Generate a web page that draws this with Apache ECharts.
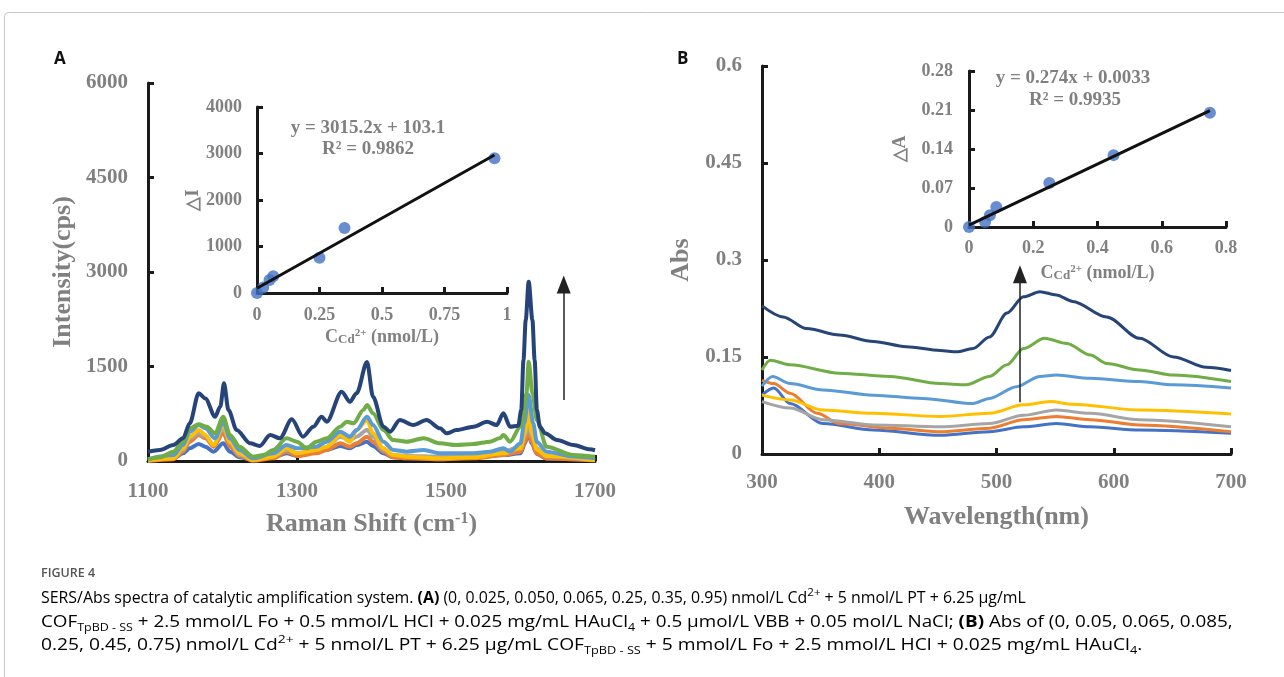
<!DOCTYPE html>
<html><head><meta charset="utf-8">
<script src="https://cdn.jsdelivr.net/npm/echarts@6/dist/echarts.min.js"></script>
<style>html,body{margin:0;padding:0;background:#fff}#c{width:1284px;height:677px}</style>
</head><body><div id="c"></div>
<script>
// ---------- Panel A: SERS spectra (Raman shift cm-1 vs intensity cps) ----------
const ramanNavyX = [1100,1116,1134,1147,1156,1168,1177,1190,1197,1202,1208,1219,1237,1250,1264,1277,1293,1308,1322,1333,1340,1360,1371,1380,1394,1402,1416,1425,1438,1456,1474,1492,1501,1514,1537,1555,1568,1577,1586,1597,1601,1604,1607,1611,1616,1619,1622,1626,1633,1649,1671,1693,1700];
const ramanNavyY = [148,175,254,360,598,1074,994,703,862,1233,809,492,280,238,413,360,661,386,545,703,624,1100,941,1074,1571,1021,545,465,651,571,651,518,439,492,545,624,571,757,545,560,809,1603,2237,2846,2237,1603,809,544,440,333,254,185,170];
const ramanGreenX = [1100,1116,1134,1147,1156,1168,1179,1190,1201,1210,1223,1241,1255,1268,1286,1300,1313,1326,1340,1358,1367,1376,1389,1394,1402,1416,1429,1447,1470,1492,1514,1537,1559,1572,1577,1586,1600,1603,1608,1611,1616,1622,1635,1671,1700];
const ramanGreenY = [27,58,148,307,518,582,545,439,703,413,228,69,95,175,360,307,201,307,360,545,624,598,809,889,757,492,333,307,360,280,254,270,307,360,413,307,545,650,1074,1576,1074,650,227,95,68];
const ramanLightX = [1100,1134,1147,1156,1168,1177,1190,1201,1210,1223,1241,1268,1286,1300,1326,1340,1358,1371,1380,1394,1402,1416,1429,1447,1470,1492,1514,1537,1559,1577,1586,1600,1605,1611,1617,1622,1635,1671,1700];
const ramanLightY = [30,95,254,465,571,518,360,624,360,175,42,122,254,201,228,307,465,386,492,703,571,307,175,148,175,122,122,122,148,201,148,280,600,1047,600,300,148,70,43];
const ramanLowX = [1100,1134,1147,1156,1168,1177,1188,1201,1210,1223,1241,1268,1286,1300,1326,1340,1358,1371,1380,1394,1402,1416,1429,1447,1492,1537,1577,1600,1606,1610,1615,1622,1635,1700];
const ramanYellowY = [10,42,201,386,492,413,254,571,307,122,16,69,201,122,175,228,413,307,492,651,439,201,95,69,42,58,122,201,450,840,450,180,80,15];
const ramanGrayY = [10,58,175,360,439,386,254,518,280,95,27,79,175,122,175,228,386,333,386,492,386,175,95,79,69,95,148,228,400,600,400,200,70,15];
const ramanOrangeY = [0,27,148,307,413,360,228,439,228,79,5,42,148,79,122,175,280,228,280,386,307,148,58,42,27,42,95,148,300,490,300,120,40,10];
const ramanBlueY = [10,42,122,201,270,228,148,280,148,58,16,58,122,79,148,175,238,201,254,307,238,122,58,42,27,58,95,122,280,450,280,110,40,10];

// Panel A inset: calibration (C Cd2+ nmol/L vs delta I)
const calAX = [0,0.025,0.05,0.065,0.25,0.35,0.95];
const calAY = [0,120,280,360,760,1400,2900];
const fitASlope = 3015.2, fitAIntercept = 103.1;

// ---------- Panel B: Abs spectra (wavelength nm vs Abs) ----------
const absNavyX = [300,318,338,366,395,423,452,466,480,494,509,523,537,551,565,594,622,651,679,700];
const absNavyY = [0.229,0.212,0.194,0.184,0.174,0.166,0.160,0.158,0.163,0.181,0.218,0.243,0.251,0.246,0.236,0.212,0.179,0.150,0.134,0.129];
const absGreenX = [300,307,324,366,409,452,474,494,509,523,541,560,580,594,622,651,700];
const absGreenY = [0.130,0.145,0.138,0.125,0.120,0.109,0.107,0.120,0.138,0.163,0.179,0.171,0.153,0.140,0.130,0.122,0.112];
const absLightX = [300,309,324,352,395,437,480,494,517,537,551,580,622,651,700];
const absLightY = [0.105,0.120,0.109,0.099,0.091,0.086,0.078,0.086,0.104,0.120,0.122,0.117,0.112,0.107,0.102];
const absYellowX = [300,324,352,395,452,494,523,546,565,622,700];
const absYellowY = [0.091,0.0835,0.068,0.063,0.058,0.063,0.076,0.081,0.077,0.068,0.062];
const absGrayX = [300,324,352,395,452,494,523,551,580,622,700];
const absGrayY = [0.081,0.071,0.053,0.045,0.042,0.047,0.060,0.068,0.063,0.053,0.042];
const absOrangeX = [300,310,324,347,366,409,452,494,523,551,580,622,700];
const absOrangeY = [0.114,0.109,0.094,0.063,0.047,0.040,0.0345,0.040,0.053,0.058,0.053,0.045,0.0345];
const absBlueX = [300,310,324,352,395,452,494,523,551,580,622,700];
const absBlueY = [0.091,0.102,0.078,0.047,0.037,0.029,0.0345,0.042,0.047,0.042,0.037,0.032];

// Panel B inset: calibration (C Cd2+ nmol/L vs delta A)
const calBX = [0,0.05,0.065,0.085,0.25,0.45,0.75];
const calBY = [0,0.009,0.021,0.036,0.079,0.129,0.205];
const fitBSlope = 0.274, fitBIntercept = 0.0033;

// ---------- styling ----------
const serif = '"Liberation Serif","Times New Roman",serif';
const gray = '#808080';
const ink = '#1a1a1a';
const colors = {blue:'#4472C4', orange:'#ED7D31', gray:'#A5A5A5', yellow:'#FFC000', light:'#5B9BD5', green:'#70AD47', navy:'#264478'};
const zip = (xs, ys) => xs.map((x, i) => [x, ys[i]]);
const fmt = v => String(Math.round(v * 1000) / 1000);

function axis(o) {
  return {
    type: 'value', gridIndex: o.grid, min: o.min, max: o.max, interval: o.interval,
    axisLine: {show: true, onZero: false, lineStyle: {color: ink, width: 3}},
    axisTick: {show: true, inside: true, length: 6, lineStyle: {color: ink, width: 3}},
    axisLabel: {color: gray, fontFamily: serif, fontWeight: 'bold', fontSize: o.fs, margin: o.margin, formatter: fmt, hideOverlap: false},
    splitLine: {show: false},
    name: o.name, nameLocation: 'middle', nameGap: o.nameGap, nameRotate: o.rotate || 0,
    nameTextStyle: {color: gray, fontFamily: serif, fontWeight: 'bold', fontSize: o.nfs, rich: o.rich}
  };
}

function spec(name, xs, ys, color, xi, w, extra) {
  return Object.assign({
    type: 'line', name, xAxisIndex: xi, yAxisIndex: xi, data: zip(xs, ys),
    showSymbol: false, symbol: 'none', smooth: 0.3, smoothMonotone: 'x',
    lineStyle: {color, width: w}, itemStyle: {color}, silent: true, z: 3
  }, extra || {});
}

const arrowStyle = {silent: true, symbol: ['none', 'triangle'], symbolSize: [14, 18], label: {show: false},
  lineStyle: {color: '#222', width: 1.5, type: 'solid'}, itemStyle: {color: '#222'}, emphasis: {disabled: true}};

const richAx = (fs) => ({
  a: {fontFamily: serif, fontWeight: 'bold', fontSize: fs, color: gray},
  sup: {fontFamily: serif, fontWeight: 'bold', fontSize: Math.round(fs * 0.62), color: gray, verticalAlign: 'top'},
  sub: {fontFamily: serif, fontWeight: 'bold', fontSize: Math.round(fs * 0.7), color: gray, verticalAlign: 'bottom'}
});

const capFont = '"Open Sans","Noto Sans",sans-serif';
const capFs = 15.9;
const capRich = {
  t: {fontFamily: capFont, fontSize: capFs, color: '#555', lineHeight: 23},
  b: {fontFamily: capFont, fontSize: capFs, color: '#555', fontWeight: 'bold', lineHeight: 23},
  sup: {fontFamily: capFont, fontSize: 11.5, color: '#555', verticalAlign: 'top'},
  sub: {fontFamily: capFont, fontSize: 10.5, color: '#555', verticalAlign: 'bottom'}
};
const capLine1 = '{t|SERS/Abs spectra of catalytic amplification system. }{b|(A)}{t| (0, 0.025, 0.050, 0.065, 0.25, 0.35, 0.95) nmol/L Cd}{sup|2+}{t| + 5 nmol/L PT + 6.25 \u03bcg/mL}';
const capLine2 = '{t|COF}{sub|TpBD - SS}{t| + 2.5 mmol/L Fo + 0.5 mmol/L HCl + 0.025 mg/mL HAuCl}{sub|4}{t| + 0.5 \u03bcmol/L VBB + 0.05 mol/L NaCl; }{b|(B)}{t| Abs of (0, 0.05, 0.065, 0.085,}';
const capLine3 = '{t|0.25, 0.45, 0.75) nmol/L Cd}{sup|2+}{t| + 5 nmol/L PT + 6.25 \u03bcg/mL COF}{sub|TpBD - SS}{t| + 5 mmol/L Fo + 2.5 mmol/L HCl + 0.025 mg/mL HAuCl}{sub|4}{t|.}';

const chart = echarts.init(document.getElementById('c'), null, {renderer: 'canvas'});
chart.setOption({
  animation: false,
  backgroundColor: '#fff',
  grid: [
    {left: 148, top: 83, width: 447, height: 378},
    {left: 257, top: 107, width: 250, height: 186},
    {left: 762, top: 66, width: 469, height: 388},
    {left: 969, top: 71, width: 257, height: 156}
  ],
  xAxis: [
    axis({grid: 0, min: 1100, max: 1700, interval: 200, fs: 21, margin: 20, name: '{a|Raman Shift (cm}{sup|-1}{a|)}', nameGap: 50, nfs: 26, rich: richAx(26)}),
    axis({grid: 1, min: 0, max: 1, interval: 0.25, fs: 18, margin: 13, name: '{a|C}{sub|Cd}{sup|2+}{a| (nmol/L)}', nameGap: 35, nfs: 18, rich: richAx(18)}),
    axis({grid: 2, min: 300, max: 700, interval: 100, fs: 21, margin: 18, name: 'Wavelength(nm)', nameGap: 50, nfs: 26}),
    axis({grid: 3, min: 0, max: 0.8, interval: 0.2, fs: 18, margin: 12, name: '{a|C}{sub|Cd}{sup|2+}{a| (nmol/L)}', nameGap: 37, nfs: 18, rich: richAx(18)})
  ],
  yAxis: [
    axis({grid: 0, min: 0, max: 6000, interval: 1500, fs: 21, margin: 20, name: 'Intensity(cps)', nameGap: 72, nfs: 26, rotate: 90}),
    axis({grid: 1, min: 0, max: 4000, interval: 1000, fs: 18, margin: 15, name: '\u25b3I', nameGap: 55, nfs: 18, rotate: 90}),
    axis({grid: 2, min: 0, max: 0.6, interval: 0.15, fs: 21, margin: 20, name: 'Abs', nameGap: 68, nfs: 26, rotate: 90}),
    axis({grid: 3, min: 0, max: 0.28, interval: 0.07, fs: 18, margin: 16, name: '\u25b3A', nameGap: 60, nfs: 18, rotate: 90})
  ],
  series: [
    spec('A-0', ramanLowX, ramanBlueY, colors.blue, 0, 4),
    spec('A-1', ramanLowX, ramanOrangeY, colors.orange, 0, 4),
    spec('A-2', ramanLowX, ramanGrayY, colors.gray, 0, 4),
    spec('A-3', ramanLowX, ramanYellowY, colors.yellow, 0, 4),
    spec('A-4', ramanLightX, ramanLightY, colors.light, 0, 4),
    spec('A-5', ramanGreenX, ramanGreenY, colors.green, 0, 4),
    spec('A-6', ramanNavyX, ramanNavyY, colors.navy, 0, 4, {
      markLine: Object.assign({data: [[{coord: [1658, 968]}, {coord: [1658, 2800]}]]}, arrowStyle)
    }),
    {type: 'line', xAxisIndex: 1, yAxisIndex: 1, silent: true, symbol: 'none', z: 4,
     lineStyle: {color: '#111', width: 3},
     data: [[calAX[0], fitAIntercept + fitASlope * calAX[0]], [calAX[calAX.length - 1], fitAIntercept + fitASlope * calAX[calAX.length - 1]]]},
    {type: 'scatter', xAxisIndex: 1, yAxisIndex: 1, silent: true, symbolSize: 12, z: 3,
     itemStyle: {color: colors.blue}, data: zip(calAX, calAY)},

    spec('B-0', absBlueX, absBlueY, colors.blue, 2, 3),
    spec('B-1', absOrangeX, absOrangeY, colors.orange, 2, 3),
    spec('B-2', absGrayX, absGrayY, colors.gray, 2, 3),
    spec('B-3', absYellowX, absYellowY, colors.yellow, 2, 3),
    spec('B-4', absLightX, absLightY, colors.light, 2, 3),
    spec('B-5', absGreenX, absGreenY, colors.green, 2, 3),
    spec('B-6', absNavyX, absNavyY, colors.navy, 2, 3, {
      markLine: Object.assign({data: [[{coord: [520, 0.080]}, {coord: [520, 0.278]}]]}, arrowStyle)
    }),
    {type: 'line', xAxisIndex: 3, yAxisIndex: 3, silent: true, symbol: 'none', z: 4,
     lineStyle: {color: '#111', width: 3},
     data: [[calBX[0], fitBIntercept + fitBSlope * calBX[0]], [calBX[calBX.length - 1], fitBIntercept + fitBSlope * calBX[calBX.length - 1]]]},
    {type: 'scatter', xAxisIndex: 3, yAxisIndex: 3, silent: true, symbolSize: 12, z: 3,
     itemStyle: {color: colors.blue}, data: zip(calBX, calBY)}
  ],
  graphic: [
    {type: 'rect', silent: true, z: -1, shape: {x: 4.5, y: 12.5, width: 1300, height: 720, r: 4},
     style: {fill: 'none', stroke: '#c8c8c8', lineWidth: 1}},
    {type: 'text', x: 54, y: 51, style: {text: 'A', font: 'bold 17px "Open Sans", sans-serif', fill: '#111'}},
    {type: 'text', x: 677, y: 51, style: {text: 'B', font: 'bold 17px "Open Sans", sans-serif', fill: '#111'}},
    {type: 'text', x: 368, y: 128, style: {text: 'y = 3015.2x + 103.1', font: 'bold 19px ' + serif, fill: gray, align: 'center', verticalAlign: 'middle'}},
    {type: 'text', x: 368, y: 149, style: {text: 'R\u00b2 = 0.9862', font: 'bold 19px ' + serif, fill: gray, align: 'center', verticalAlign: 'middle'}},
    {type: 'text', x: 1073, y: 78, style: {text: 'y = 0.274x + 0.0033', font: 'bold 19px ' + serif, fill: gray, align: 'center', verticalAlign: 'middle'}},
    {type: 'text', x: 1075, y: 100, style: {text: 'R\u00b2 = 0.9935', font: 'bold 19px ' + serif, fill: gray, align: 'center', verticalAlign: 'middle'}},
    {type: 'text', x: 41, y: 573, style: {text: 'FIGURE 4', font: '600 12.5px ' + capFont, fill: '#555', verticalAlign: 'middle'}},
    {type: 'text', x: 41, y: 598, style: {text: capLine1, rich: capRich, verticalAlign: 'middle'}},
    {type: 'text', x: 41, y: 622, scaleX: 1.186, style: {text: capLine2, rich: capRich, verticalAlign: 'middle'}},
    {type: 'text', x: 41, y: 645, scaleX: 1.21, style: {text: capLine3, rich: capRich, verticalAlign: 'middle'}}
  ]
});
</script></body></html>
